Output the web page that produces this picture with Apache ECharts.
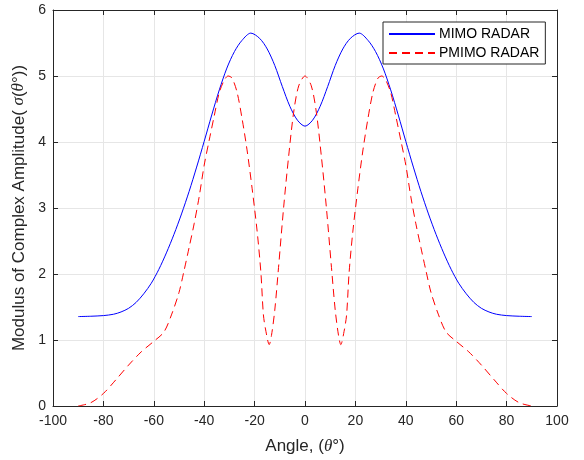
<!DOCTYPE html>
<html>
<head>
<meta charset="utf-8">
<script src="https://cdn.jsdelivr.net/npm/echarts@6/dist/echarts.min.js"></script>
<style>html,body{margin:0;padding:0;background:#fff;}#c{width:584px;height:460px;}</style>
</head>
<body>
<div id="c"></div>
<script>
const mimoAngles = [-90,-85,-80,-76,-73,-70,-67,-64,-61,-58,-55,-52,-49,-46,-43,-40,-37,-34,-31,-28,-25,-21.5,-18,-15,-12,-9,-6,-3,0,3,6,9,12,15,18,21.5,25,28,31,34,37,40,43,46,49,52,55,58,61,64,67,70,73,76,80,85,90];
const mimoValues = [1.355,1.36,1.37,1.39,1.425,1.48,1.57,1.70,1.86,2.07,2.32,2.60,2.91,3.25,3.62,4.01,4.41,4.79,5.12,5.37,5.54,5.65,5.57,5.41,5.16,4.84,4.54,4.33,4.24,4.33,4.54,4.84,5.16,5.41,5.57,5.65,5.54,5.37,5.12,4.79,4.41,4.01,3.62,3.25,2.91,2.60,2.32,2.07,1.86,1.70,1.57,1.48,1.425,1.39,1.37,1.36,1.355];
const pmimoAngles = [-90,-85,-80,-75,-70,-65,-60,-56,-53,-50,-48,-46,-44,-42,-40,-38,-36,-34,-32,-30.5,-29,-27,-25,-23,-21,-19,-17.5,-16.5,-15.5,-14.2,-13.3,-12,-10.5,-8.5,-6.5,-4.5,-2.5,0,2.5,4.5,6.5,8.5,10.5,12,13.3,14.2,15.5,16.5,17.5,19,21,23,25,27,29,30.5,32,34,36,38,40,42,44,46,48,50,53,56,60,65,70,75,80,85,90];
const pmimoValues = [0.00,0.05,0.19,0.40,0.62,0.82,0.98,1.12,1.38,1.72,2.05,2.40,2.76,3.17,3.65,4.03,4.40,4.75,4.94,5.00,4.97,4.76,4.36,3.88,3.30,2.65,2.02,1.38,1.13,0.93,1.07,1.45,2.10,3.00,3.78,4.45,4.85,5.00,4.85,4.45,3.78,3.00,2.10,1.45,1.07,0.93,1.13,1.38,2.02,2.65,3.30,3.88,4.36,4.76,4.97,5.00,4.94,4.75,4.40,4.03,3.65,3.17,2.76,2.40,2.05,1.72,1.38,1.12,0.98,0.82,0.62,0.40,0.19,0.05,0.00];
const xTicks = {min:-100, max:100, step:20};
const yTicks = {min:0, max:6, step:1};

const axisColor = '#262626';
const gridColor = '#e6e6e6';
const font = 'Arial, "Liberation Sans", Helvetica, sans-serif';
const italic = {fontStyle:'italic', fontFamily:'"Times New Roman","Liberation Serif",serif', fontSize:17, color:axisColor};

const chart = echarts.init(document.getElementById('c'), null, {renderer:'canvas'});
const pair = (xs, ys) => xs.map((x,i)=>[x, ys[i]]);
chart.setOption({
  animation:false,
  backgroundColor:'#ffffff',
  grid:{left:53, right:27, top:10, bottom:53, containLabel:false},
  legend:{
    orient:'vertical', left:383, top:22,
    backgroundColor:'#ffffff', borderColor:axisColor, borderWidth:1,
    padding:[5,6,4,5], itemGap:5, itemWidth:46, itemHeight:14,
    itemStyle:{opacity:0},
    textStyle:{fontFamily:font, fontSize:14, color:'#000', padding:[0,0,0,-1]},
    data:['MIMO RADAR','PMIMO RADAR']
  },
  xAxis:[{
    type:'value', min:xTicks.min, max:xTicks.max, interval:xTicks.step,
    name:'Angle, ({i|θ}°)', nameLocation:'middle', nameGap:32,
    nameTextStyle:{fontFamily:font, fontSize:17, color:axisColor, rich:{i:italic}},
    axisLine:{show:true, onZero:false, lineStyle:{color:axisColor, width:1}},
    axisTick:{show:true, inside:true, length:5, lineStyle:{color:axisColor}},
    axisLabel:{fontFamily:font, fontSize:14, color:axisColor, margin:8},
    splitLine:{show:true, lineStyle:{color:gridColor, width:1}}
  },{
    type:'value', position:'top', min:xTicks.min, max:xTicks.max, interval:xTicks.step,
    axisLine:{show:true, onZero:false, lineStyle:{color:axisColor, width:1}},
    axisTick:{show:true, inside:true, length:5, lineStyle:{color:axisColor}},
    axisLabel:{show:false}, splitLine:{show:false}
  }],
  yAxis:[{
    type:'value', min:yTicks.min, max:yTicks.max, interval:yTicks.step,
    name:'Modulus of Complex Amplitude( {i|σ}({i|θ}°))', nameLocation:'middle', nameGap:21, nameRotate:90,
    nameTextStyle:{fontFamily:font, fontSize:17, color:axisColor, rich:{i:italic}},
    axisLine:{show:true, onZero:false, lineStyle:{color:axisColor, width:1}},
    axisTick:{show:true, inside:true, length:5, lineStyle:{color:axisColor}},
    axisLabel:{fontFamily:font, fontSize:14, color:axisColor, margin:7},
    splitLine:{show:true, lineStyle:{color:gridColor, width:1}}
  },{
    type:'value', position:'right', min:yTicks.min, max:yTicks.max, interval:yTicks.step,
    axisLine:{show:true, onZero:false, lineStyle:{color:axisColor, width:1}},
    axisTick:{show:true, inside:true, length:5, lineStyle:{color:axisColor}},
    axisLabel:{show:false}, splitLine:{show:false}
  }],
  series:[{
    name:'MIMO RADAR', type:'line', data:pair(mimoAngles, mimoValues),
    symbol:'none', smooth:0.3, color:'#0000ff',
    lineStyle:{color:'#0000ff', width:1}
  },{
    name:'PMIMO RADAR', type:'line', data:pair(pmimoAngles, pmimoValues),
    symbol:'none', smooth:0.3, color:'#ff0000',
    lineStyle:{color:'#ff0000', width:1, type:[8,5]}
  }]
});
</script>
</body>
</html>
